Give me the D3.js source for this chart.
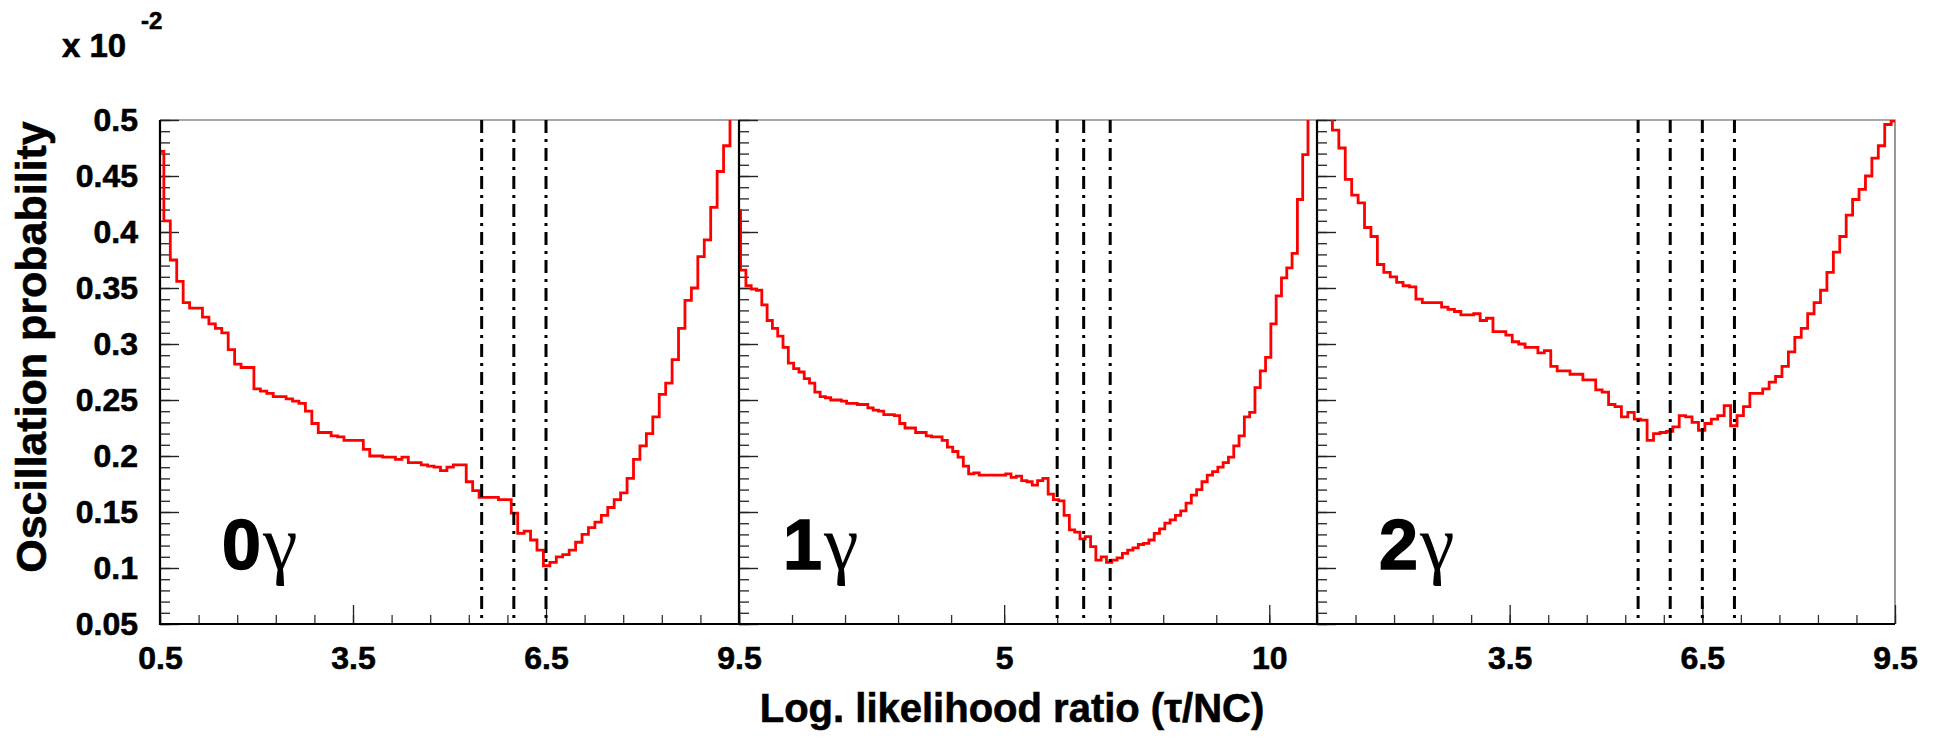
<!DOCTYPE html>
<html>
<head>
<meta charset="utf-8">
<script src="https://cdn.jsdelivr.net/npm/d3@7"></script>
<style>
  body { margin: 0; background: #fff; }
  svg text { font-family: "Liberation Sans", Arial, Helvetica, sans-serif; font-weight: bold; fill: #000; stroke: #000; stroke-width: 0.6px; }
</style>
</head>
<body>
<svg id="chart" width="1946" height="741"></svg>
<script>
// ---- data ----
const panelNames = ["0", "1", "2"];            // number of photons
const xDomains = [[0.5, 9.5], [0, 10.9], [0.5, 9.5]];
const xTickLabels = [[0.5, 3.5, 6.5, 9.5], [5, 10], [3.5, 6.5, 9.5]];
const xMajorStep = [3, 5, 3];
const xMinorStep = [0.6, 1, 0.6];
const yDomain = [0.05, 0.5];
const binWidth = 0.1;
const firstBinEdge = [0.46, -0.07, 0.44];

const prob0g = [
  0.472, 0.410, 0.375, 0.356, 0.337, 0.332, 0.332, 0.324, 0.318, 0.314,
  0.310, 0.295, 0.282, 0.279, 0.279, 0.260, 0.258, 0.256, 0.253, 0.253,
  0.251, 0.249, 0.247, 0.240, 0.229, 0.221, 0.221, 0.218, 0.217, 0.214,
  0.214, 0.214, 0.206, 0.200, 0.200, 0.199, 0.199, 0.197, 0.199, 0.194,
  0.194, 0.192, 0.191, 0.190, 0.187, 0.190, 0.192, 0.192, 0.177, 0.169,
  0.163, 0.163, 0.163, 0.161, 0.161, 0.149, 0.131, 0.133, 0.125, 0.116,
  0.102, 0.105, 0.110, 0.112, 0.116, 0.123, 0.130, 0.136, 0.141, 0.147,
  0.154, 0.161, 0.167, 0.180, 0.197, 0.209, 0.220, 0.235, 0.255, 0.265,
  0.286, 0.314, 0.339, 0.350, 0.378, 0.393, 0.422, 0.454, 0.477, 0.53, 0.58
];
const prob1g = [
  0.419, 0.366, 0.352, 0.349, 0.348, 0.335, 0.321, 0.314, 0.307, 0.297,
  0.283, 0.278, 0.275, 0.269, 0.265, 0.257, 0.253, 0.252, 0.250, 0.250,
  0.249, 0.247, 0.247, 0.246, 0.246, 0.243, 0.241, 0.240, 0.237, 0.237,
  0.236, 0.229, 0.225, 0.225, 0.221, 0.221, 0.218, 0.217, 0.217, 0.214,
  0.208, 0.204, 0.199, 0.191, 0.184, 0.185, 0.183, 0.183, 0.183, 0.183,
  0.183, 0.184, 0.181, 0.182, 0.178, 0.177, 0.174, 0.178, 0.180, 0.166,
  0.161, 0.160, 0.147, 0.134, 0.132, 0.126, 0.128, 0.119, 0.107, 0.110,
  0.105, 0.107, 0.109, 0.113, 0.116, 0.118, 0.121, 0.122, 0.125, 0.131,
  0.135, 0.140, 0.143, 0.147, 0.151, 0.158, 0.165, 0.170, 0.177, 0.183,
  0.186, 0.190, 0.194, 0.199, 0.209, 0.218, 0.235, 0.239, 0.261, 0.276,
  0.288, 0.318, 0.343, 0.359, 0.368, 0.381, 0.429, 0.469, 0.53, 0.6
];
const prob2g = [
  0.56, 0.54, 0.52,
  0.491, 0.475, 0.447, 0.433, 0.426, 0.404, 0.396, 0.371, 0.364, 0.360,
  0.355, 0.352, 0.351, 0.340, 0.337, 0.337, 0.337, 0.333, 0.331, 0.329,
  0.326, 0.326, 0.327, 0.321, 0.323, 0.311, 0.311, 0.308, 0.302, 0.300,
  0.297, 0.297, 0.292, 0.294, 0.280, 0.276, 0.276, 0.273, 0.273, 0.268,
  0.268, 0.259, 0.257, 0.246, 0.244, 0.235, 0.239, 0.233, 0.232, 0.214,
  0.220, 0.221, 0.222, 0.226, 0.236, 0.235, 0.230, 0.223, 0.229, 0.233,
  0.236, 0.245, 0.227, 0.236, 0.244, 0.256, 0.256, 0.260, 0.266, 0.271,
  0.280, 0.293, 0.306, 0.314, 0.327, 0.337, 0.348, 0.364, 0.382, 0.396,
  0.415, 0.429, 0.438, 0.450, 0.466, 0.477, 0.496, 0.499
];
const cutLines = [[5.5, 6.0, 6.5], [6.0, 6.5, 7.0], [5.5, 6.0, 6.5, 7.0]];

// ---- layout ----
const series = [prob0g, prob1g, prob2g];
const plotTop = 120, plotBottom = 624;
const panelEdges = [160, 739, 1317, 1895];
const labelOffsets = [62, 44, 62];

const svg = d3.select("#chart");

const y = d3.scaleLinear().domain(yDomain).range([plotBottom, plotTop]);
const yMajor = d3.range(1, 11).map(i => +(i * 0.05).toFixed(2));
const yMinor = d3.range(5, 51).map(i => +(i * 0.01).toFixed(2));

function styleTicks(g, width, color) {
  g.select(".domain").remove();
  g.selectAll("line").attr("stroke", color).attr("stroke-width", width);
}

panelNames.forEach((name, p) => {
  const x0 = panelEdges[p], x1 = panelEdges[p + 1];
  const x = d3.scaleLinear().domain(xDomains[p]).range([x0, x1]);
  const [d0, d1] = xDomains[p];
  const xMinor = d3.range(0, 100).map(i => +(d0 + i * xMinorStep[p]).toFixed(3)).filter(v => v <= d1 + 1e-9);
  const xMajor = d3.range(0, 20).map(i => +(d0 + i * xMajorStep[p]).toFixed(3)).filter(v => v <= d1 + 1e-9);

  svg.append("clipPath").attr("id", "clip" + p)
    .append("rect")
    .attr("x", x0).attr("y", plotTop)
    .attr("width", x1 - x0).attr("height", plotBottom - plotTop);

  // frame: thin top / right
  svg.append("path")
    .attr("d", `M${x0},${plotTop}H${x1}V${plotBottom}`)
    .attr("fill", "none").attr("stroke", "#555").attr("stroke-width", 1.2);

  // x ticks
  svg.append("g").attr("transform", `translate(0,${plotBottom})`)
    .call(d3.axisBottom(x).tickValues(xMinor).tickSize(-9).tickFormat(""))
    .call(g => styleTicks(g, 1.3, "#333"));
  svg.append("g").attr("transform", `translate(0,${plotBottom})`)
    .call(d3.axisBottom(x).tickValues(xMajor).tickSize(-19).tickFormat(""))
    .call(g => styleTicks(g, 1.3, "#222"));
  const xl = svg.append("g").attr("transform", `translate(0,${plotBottom})`)
    .call(d3.axisBottom(x).tickValues(xTickLabels[p]).tickSize(0).tickPadding(22).tickFormat(d => String(d)));
  xl.select(".domain").remove();
  xl.attr("font-family", null).attr("font-size", null);
  xl.selectAll("text").style("font-size", "32px");

  // y ticks
  svg.append("g").attr("transform", `translate(${x0},0)`)
    .call(d3.axisLeft(y).tickValues(yMinor).tickSize(-10).tickFormat(""))
    .call(g => styleTicks(g, 1.4, "#333"));
  const yl = svg.append("g").attr("transform", `translate(${x0},0)`)
    .call(d3.axisLeft(y).tickValues(yMajor).tickSize(-19).tickPadding(22)
      .tickFormat(p === 0 ? (d => String(d)) : ""));
  styleTicks(yl, 1.4, "#222");
  yl.attr("font-family", null).attr("font-size", null);
  yl.selectAll("text").style("font-size", "32px");

  // histogram
  const vals = series[p];
  const pts = vals.map((v, i) => [firstBinEdge[p] + i * binWidth, v]);
  pts.push([firstBinEdge[p] + vals.length * binWidth, vals[vals.length - 1]]);
  const line = d3.line()
    .x(d => x(d[0])).y(d => y(d[1]))
    .curve(d3.curveStepAfter);
  svg.append("path")
    .datum(pts)
    .attr("clip-path", `url(#clip${p})`)
    .attr("d", line)
    .attr("fill", "none")
    .attr("stroke", "#ff0000")
    .attr("stroke-width", 2.8)
    .attr("stroke-linejoin", "miter");

  // cut lines
  svg.append("g").selectAll("line")
    .data(cutLines[p]).enter().append("line")
    .attr("x1", d => x(d)).attr("x2", d => x(d))
    .attr("y1", plotTop).attr("y2", plotBottom)
    .attr("stroke", "#000").attr("stroke-width", 3)
    .attr("stroke-dasharray", "13,6,3,6");

  // axes lines: thick left / bottom
  svg.append("path")
    .attr("d", `M${x0},${plotTop}V${plotBottom}H${x1}`)
    .attr("fill", "none").attr("stroke", "#000").attr("stroke-width", 2.2);

  // photon label
  const lab = svg.append("text")
    .attr("x", x0 + labelOffsets[p]).attr("y", 569);
  lab.append("tspan").style("font-size", "70px").style("stroke-width", "1.5px").text(name);
  lab.append("tspan")
    .attr("dx", 2)
    .style("font-family", "'Liberation Serif', 'DejaVu Serif', serif")
    .style("font-weight", "normal")
    .style("stroke-width", "0px")
    .style("font-size", "78px")
    .text("\u03b3");
});

// exponent
svg.append("text").attr("x", 62).attr("y", 57).style("font-size", "33px").text("x 10");
svg.append("text").attr("x", 141).attr("y", 29).style("font-size", "24px").text("-2");

// axis titles
svg.append("text")
  .attr("transform", "translate(46,347) rotate(-90)")
  .attr("text-anchor", "middle")
  .style("font-size", "43px")
  .text("Oscillation probability");

svg.append("text")
  .attr("x", 1012).attr("y", 722)
  .attr("text-anchor", "middle")
  .style("font-size", "40px")
  .text("Log. likelihood ratio (\u03c4/NC)");
</script>
</body>
</html>
